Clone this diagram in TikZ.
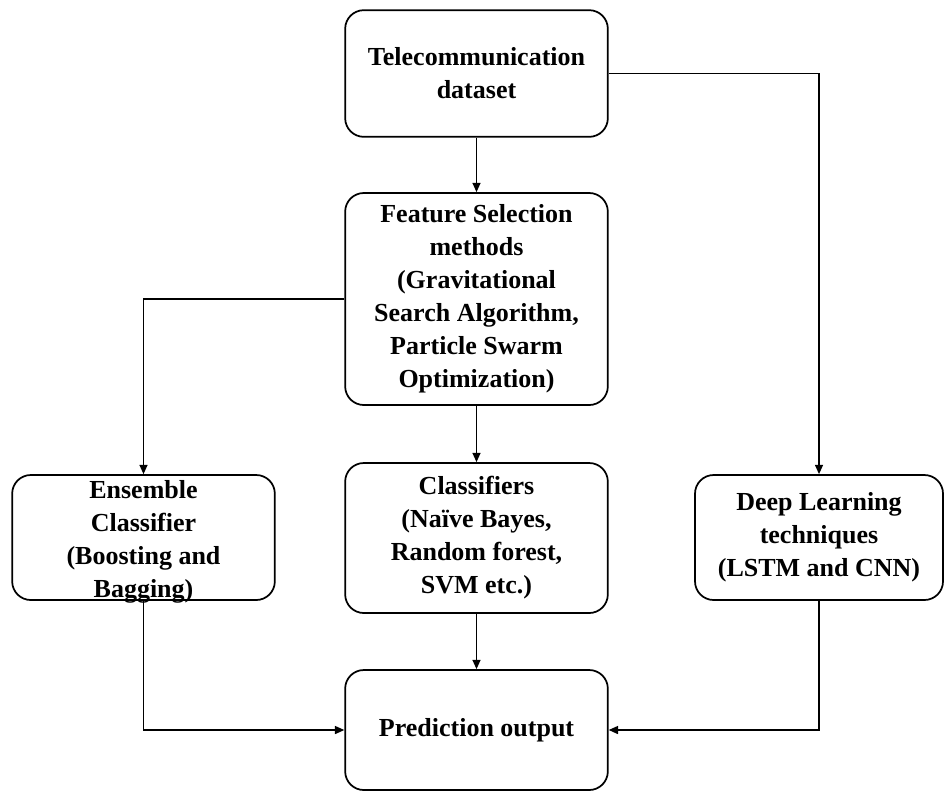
\documentclass[tikz,border=0pt]{standalone}
\usepackage{fontspec}
\setmainfont{Liberation Serif}
\usetikzlibrary{arrows.meta,positioning}
\tikzset{
  blk/.style ={draw,line width=1.3pt,rounded corners=14pt,inner sep=0pt,
               minimum width=197pt,align=center,
               font=\fontsize{19.5}{24.75}\selectfont\bfseries},
  txt/.style ={align=center,inner sep=0pt,
               font=\fontsize{19.5}{24.75}\selectfont\bfseries},
  flow/.style={-{Triangle[length=7pt,width=6pt]},line width=1.1pt},
}

\begin{document}
\begin{tikzpicture}[x=0.75pt,y=-0.75pt]
  \useasboundingbox (0,0) rectangle (944,794);
  % boxes
  \node[blk,minimum height=95pt] (tel) at (476.5,73.5) {Telecommunication\\dataset};
  \node[blk,minimum height=159pt] (fs) at (476.5,299)
    {Feature Selection\\methods\\(Gravitational\\Search Algorithm,\\Particle Swarm\\Optimization)};
  \node[blk,minimum height=93.75pt] (ens) at (143.5,537.5) {};
  \node[txt] (enstxt) at (143.5,542) {Ensemble\\Classifier\\(Boosting and\\Bagging)};
  \node[blk,minimum height=112.5pt] (cls) at (476.5,538)
    {Classifiers\\(Naïve Bayes,\\Random forest,\\SVM etc.)};
  \node[blk,minimum height=93.75pt,minimum width=186pt] (dl) at (819,537.5)
    {Deep Learning\\techniques\\(LSTM and CNN)};
  \node[blk,minimum height=90pt] (pred) at (476.5,730) {Prediction output};
  % connectors
  \draw[flow] (tel) -- (fs);
  \draw[flow] (tel.east) -| (dl.north);
  \draw[flow] (fs.west) -| (ens.north);
  \draw[flow] (fs) -- (cls);
  \draw[flow] (cls) -- (pred);
  \draw[flow] (ens.south) |- (pred.west);
  \draw[flow] (dl.south) |- (pred.east);
\end{tikzpicture}
\end{document}
